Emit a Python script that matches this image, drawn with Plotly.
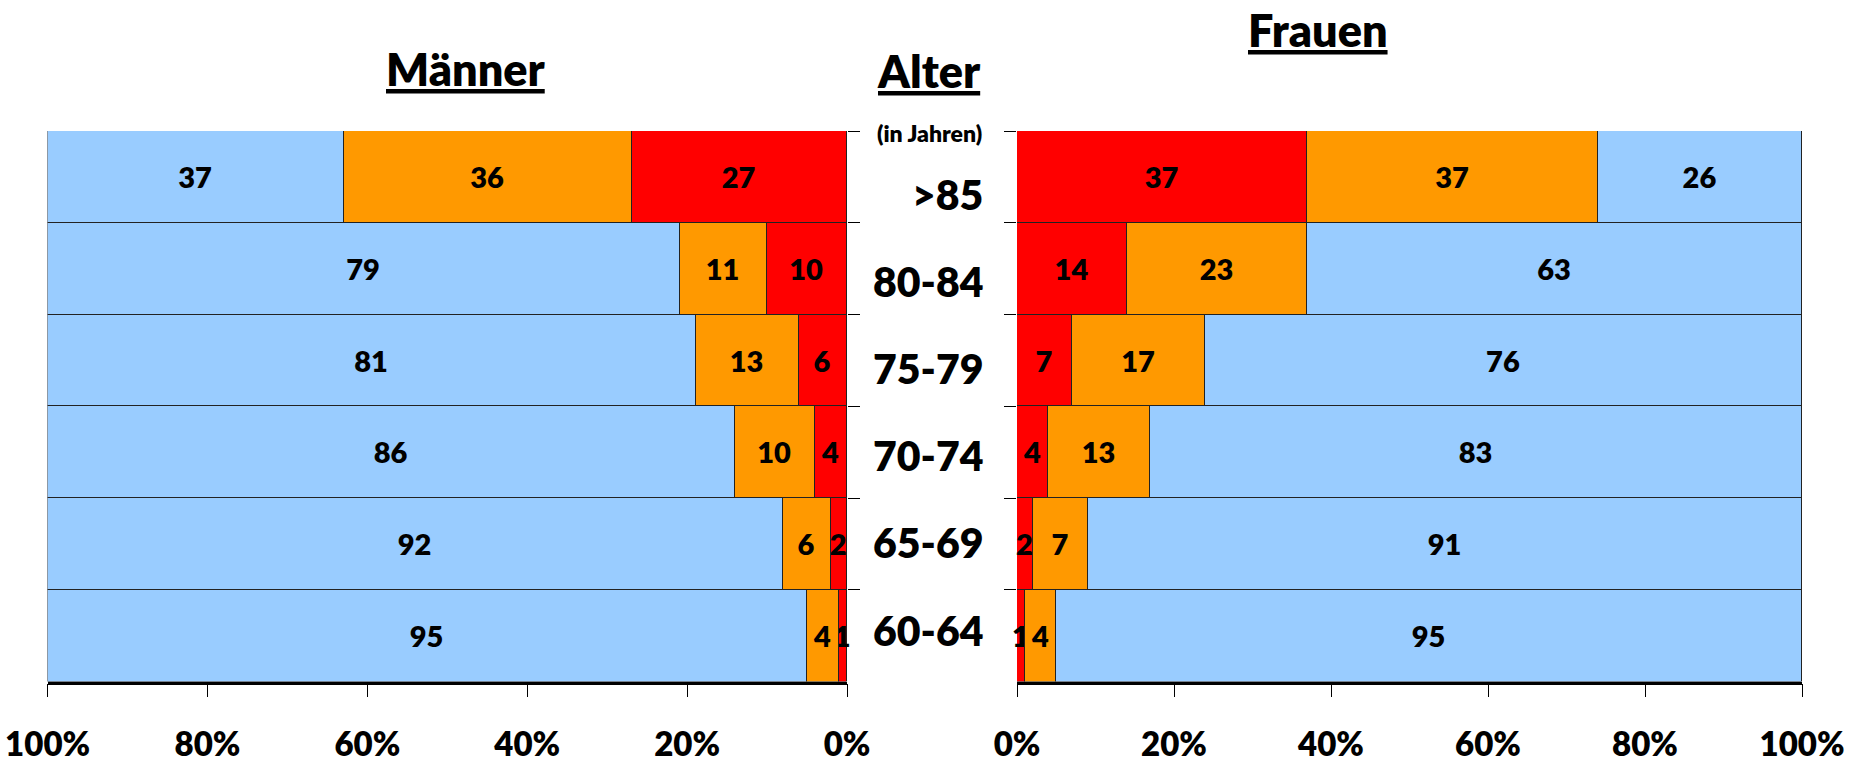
import plotly.graph_objects as go

W, H = 1865, 764

ages = [">85", "80-84", "75-79", "70-74", "65-69", "60-64"]

men_blue = [37, 79, 81, 86, 92, 95]
men_orange = [36, 11, 13, 10, 6, 4]
men_red = [27, 10, 6, 4, 2, 1]

women_red = [37, 14, 7, 4, 2, 1]
women_orange = [37, 23, 17, 13, 7, 4]
women_blue = [26, 63, 76, 83, 91, 95]

x_ticks = [0, 20, 40, 60, 80, 100]

BLUE, ORANGE, RED = "#99CCFF", "#FF9900", "#FF0000"
FONT = "Lato"
WT = 800


def px(x):
    return x / W


def py(y):
    return 1 - y / H


def bar(vals, color, xa, ya):
    return go.Bar(
        y=ages, x=vals, orientation="h", xaxis=xa, yaxis=ya,
        marker=dict(color=color, line=dict(color="#222222", width=1)),
        text=[str(v) for v in vals], textposition="inside",
        insidetextanchor="middle", textangle=0, constraintext="none",
        textfont=dict(family=FONT, size=29, color="black", weight=WT),
        cliponaxis=False, showlegend=False, hoverinfo="skip",
    )


fig = go.Figure()
fig.add_trace(bar(men_red, RED, "x", "y"))
fig.add_trace(bar(men_orange, ORANGE, "x", "y"))
fig.add_trace(bar(men_blue, BLUE, "x", "y"))
fig.add_trace(bar(women_red, RED, "x2", "y2"))
fig.add_trace(bar(women_orange, ORANGE, "x2", "y2"))
fig.add_trace(bar(women_blue, BLUE, "x2", "y2"))

ydom = [py(681.5), py(131)]
tickfont = dict(family=FONT, size=33, color="black", weight=WT)
xcommon = dict(
    tickmode="array", tickvals=x_ticks, ticktext=[f"{t}%" for t in x_ticks],
    ticks="outside", ticklen=13, tickwidth=1.2, tickcolor="black",
    showline=True, linecolor="black", linewidth=2.5, showgrid=False,
    zeroline=False, tickfont=tickfont, ticklabelstandoff=19, automargin=False,
)
ycommon = dict(
    type="category", categoryorder="array", categoryarray=ages,
    autorange="reversed", tickson="boundaries", ticks="outside",
    ticklen=12, tickwidth=1.2, tickcolor="black", showticklabels=False,
    showline=False, showgrid=False, zeroline=False, domain=ydom, automargin=False,
)

fig.update_layout(
    width=W, height=H, margin=dict(l=0, r=0, t=0, b=0),
    paper_bgcolor="white", plot_bgcolor="white",
    barmode="stack", bargap=0,
    xaxis=dict(domain=[px(47.6), px(847)], range=[100, 0], anchor="y", **xcommon),
    xaxis2=dict(domain=[px(1017), px(1802)], range=[0, 100], anchor="y2", **xcommon),
    yaxis=dict(anchor="x", side="right", **ycommon),
    yaxis2=dict(anchor="x2", side="left", **ycommon),
)

title_font = dict(family=FONT, size=45, color="black", weight=WT, lineposition="under")
ann = [
    dict(text="Männer", x=px(466), y=py(69), font=title_font),
    dict(text="Alter", x=px(929), y=py(71), font=title_font),
    dict(text="Frauen", x=px(1318), y=py(30), font=title_font),
    dict(text="(in Jahren)", x=px(929), y=py(133),
         font=dict(family=FONT, size=23, color="black", weight=WT)),
]
for a in ann:
    a.update(xref="paper", yref="paper", showarrow=False, xanchor="center", yanchor="middle")
    fig.add_annotation(**a)

# age labels, evenly spaced next to the bars
top_c, bot_c = 194, 630
for i, lab in enumerate(ages):
    yc = top_c + (bot_c - top_c) * i / (len(ages) - 1)
    fig.add_annotation(text=lab, x=px(985), y=py(yc), xref="paper", yref="paper",
                       xanchor="right", yanchor="middle", showarrow=False,
                       font=dict(family=FONT, size=41, color="black", weight=WT))

fig.write_html(
    "out.html",
    config={"displayModeBar": False},
    post_script="document.body.style.margin='0';document.body.style.overflow='hidden';",
)
